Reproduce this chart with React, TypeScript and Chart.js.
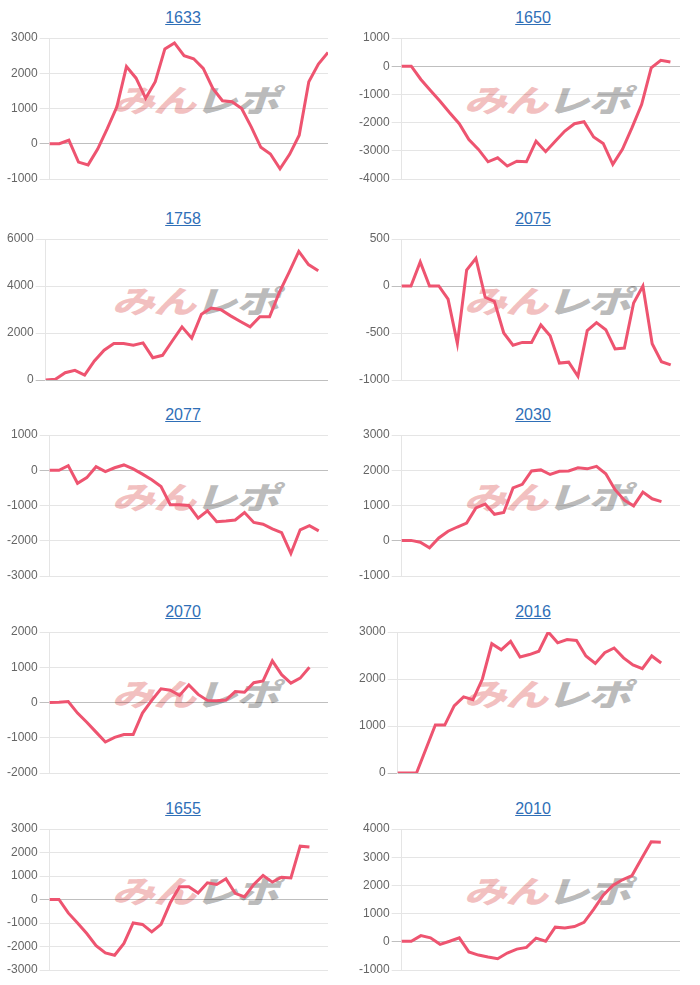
import React, { useEffect, useRef } from "react";
import { Chart, registerables } from "chart.js";

Chart.register(...registerables);

// ---- data ----
const titles = ["1633", "1650", "1758", "2075", "2077", "2030", "2070", "2016", "1655", "2010"];
const labelCounts = [30, 30, 30, 31, 31, 31, 31, 31, 31, 30];

const d1633 = [0, 0, 100, -520, -600, -150, 430, 1050, 2190, 1860, 1290, 1760, 2690, 2860, 2500, 2410, 2140, 1570, 1220, 1190, 1000, 480, -100, -290, -710, -300, 240, 1760, 2260, 2590];
const d1650 = [0, 0, -470, -860, -1240, -1650, -2040, -2600, -2950, -3390, -3250, -3540, -3370, -3390, -2660, -3030, -2660, -2300, -2040, -1970, -2510, -2740, -3480, -2950, -2180, -1360, -60, 210, 150];
const d1758 = [0, 30, 310, 410, 210, 810, 1270, 1550, 1550, 1480, 1580, 950, 1050, 1660, 2260, 1780, 2800, 3060, 2990, 2730, 2490, 2260, 2690, 2690, 3730, 4580, 5470, 4910, 4650];
const d2075 = [0, 0, 256, 0, 0, -140, -610, 170, 295, -120, -165, -500, -630, -600, -600, -415, -530, -820, -810, -960, -475, -390, -465, -670, -660, -180, 0, -615, -805, -840];
const d2077 = [0, 0, 130, -370, -210, 100, -40, 70, 150, 40, -110, -270, -460, -980, -980, -1000, -1360, -1150, -1460, -1440, -1410, -1200, -1480, -1530, -1660, -1770, -2360, -1690, -1570, -1720];
const d2030 = [10, 10, -40, -200, 80, 270, 390, 500, 930, 1040, 750, 800, 1500, 1600, 1980, 2010, 1880, 1970, 1980, 2070, 2040, 2110, 1900, 1450, 1150, 990, 1380, 1190, 1110];
const d2070 = [0, 10, 30, -300, -560, -840, -1120, -990, -910, -910, -300, 60, 390, 350, 200, 500, 230, 60, 50, 70, 310, 290, 560, 610, 1180, 790, 550, 690, 1000];
const d2016 = [0, 0, 0, 510, 1020, 1020, 1430, 1620, 1560, 2000, 2750, 2620, 2800, 2470, 2520, 2590, 3000, 2770, 2840, 2820, 2490, 2330, 2560, 2660, 2450, 2300, 2220, 2490, 2340];
const d1655 = [0, 0, -570, -1000, -1450, -1960, -2270, -2370, -1870, -1000, -1060, -1380, -1060, -140, 540, 540, 280, 710, 640, 880, 260, 110, 640, 1020, 740, 950, 920, 2270, 2230];
const d2010 = [20, 20, 220, 140, -90, 20, 140, -360, -470, -540, -600, -400, -260, -200, 130, 20, 520, 490, 540, 690, 1150, 1650, 2000, 2200, 2350, 2950, 3550, 3530];

const series = [d1633, d1650, d1758, d2075, d2077, d2030, d2070, d2016, d1655, d2010];

const yMins = [-1000, -4000, 0, -1000, -3000, -1000, -2000, 0, -3000, -1000];
const yMaxs = [3000, 1000, 6000, 500, 1000, 3000, 2000, 3000, 3000, 4000];
const ySteps = [1000, 1000, 2000, 500, 1000, 1000, 1000, 1000, 1000, 1000];

// ---- layout ----
const LINE = "rgb(238, 84, 112)";
const colCanvasLeft = [5, 357];
const colChartRight = [328, 680];
const colTitleCenter = [183, 533];
const rowChartTop = [38, 239, 435, 632, 829];
const CHART_H = 141;
const PAD = 8;
const CANVAS_H = CHART_H + PAD * 2;

function Panel({ idx }: { idx: number }) {
  const ref = useRef<HTMLCanvasElement>(null);
  const col = idx % 2;
  const row = Math.floor(idx / 2);
  const canvasLeft = colCanvasLeft[col];
  const canvasW = colChartRight[col] - canvasLeft;
  const chartTop = rowChartTop[row];

  useEffect(() => {
    const labels = Array.from({ length: labelCounts[idx] }, (_, i) => String(i + 1));
    const chart = new Chart(ref.current as HTMLCanvasElement, {
      type: "line",
      data: {
        labels,
        datasets: [
          {
            data: series[idx],
            borderColor: LINE,
            backgroundColor: LINE,
            borderWidth: 3,
            pointRadius: 0,
            pointHoverRadius: 0,
            fill: false,
            tension: 0,
          },
        ],
      },
      options: {
        animation: false,
        responsive: false,
        maintainAspectRatio: false,
        events: [],
        layout: { padding: { top: PAD, bottom: PAD, left: 0, right: 0 } },
        plugins: {
          legend: { display: false },
          tooltip: { enabled: false },
          title: { display: false },
        },
        scales: {
          x: { display: false },
          y: {
            min: yMins[idx],
            max: yMaxs[idx],
            afterFit: (scale: any) => {
              scale.paddingTop = 0;
              scale.paddingBottom = 0;
            },
            ticks: {
              stepSize: ySteps[idx],
              color: "#666",
              padding: 2,
              font: { family: "'Liberation Sans', Arial, Helvetica, sans-serif", size: 12 },
              callback: (v: any) => String(v),
            },
            grid: {
              color: (ctx: any) => (ctx.tick && ctx.tick.value === 0 ? "rgba(0,0,0,0.25)" : "rgba(0,0,0,0.1)"),
              tickLength: 10,
              drawTicks: true,
            },
            border: { display: true, color: "rgba(0,0,0,0.1)" },
          },
        },
      },
    });
    return () => chart.destroy();
  }, [idx]);

  const chartCenterX = (colCanvasLeft[col] + 43 + colChartRight[col]) / 2;
  const chartCenterY = chartTop + CHART_H / 2;

  return (
    <>
      <div
        style={{
          position: "absolute",
          left: colTitleCenter[col] - 100,
          top: chartTop - 30,
          width: 200,
          height: 20,
          lineHeight: "20px",
          textAlign: "center",
          fontFamily: "'Liberation Sans', Arial, Helvetica, sans-serif",
          fontSize: 16,
        }}
      >
        <a href="#" style={{ color: "#2f6fb7", textDecoration: "underline" }}>
          {titles[idx]}
        </a>
      </div>
      <div
        style={{
          position: "absolute",
          left: chartCenterX + 11,
          top: chartCenterY - 10,
          transform: "translate(-50%, -50%) scaleX(1.38) skewX(-14deg)",
          fontFamily: "'Noto Sans CJK JP', sans-serif",
          fontWeight: 900,
          fontSize: 31,
          lineHeight: "32px",
          whiteSpace: "nowrap",
          letterSpacing: "-1px",
          zIndex: 0,
        }}
      >
        <span style={{ color: "rgba(230, 130, 130, 0.5)" }}>みん</span>
        <span style={{ color: "rgba(120, 120, 120, 0.5)" }}>レポ</span>
      </div>
      <canvas
        ref={ref}
        width={canvasW}
        height={CANVAS_H}
        style={{
          position: "absolute",
          left: canvasLeft,
          top: chartTop - PAD,
          width: canvasW,
          height: CANVAS_H,
          zIndex: 1,
        }}
      />
    </>
  );
}

export default function App() {
  return (
    <div style={{ position: "absolute", left: 0, top: 0, width: 700, height: 985, background: "#fff", overflow: "hidden" }}>
      {titles.map((_, i) => (
        <Panel key={i} idx={i} />
      ))}
    </div>
  );
}
